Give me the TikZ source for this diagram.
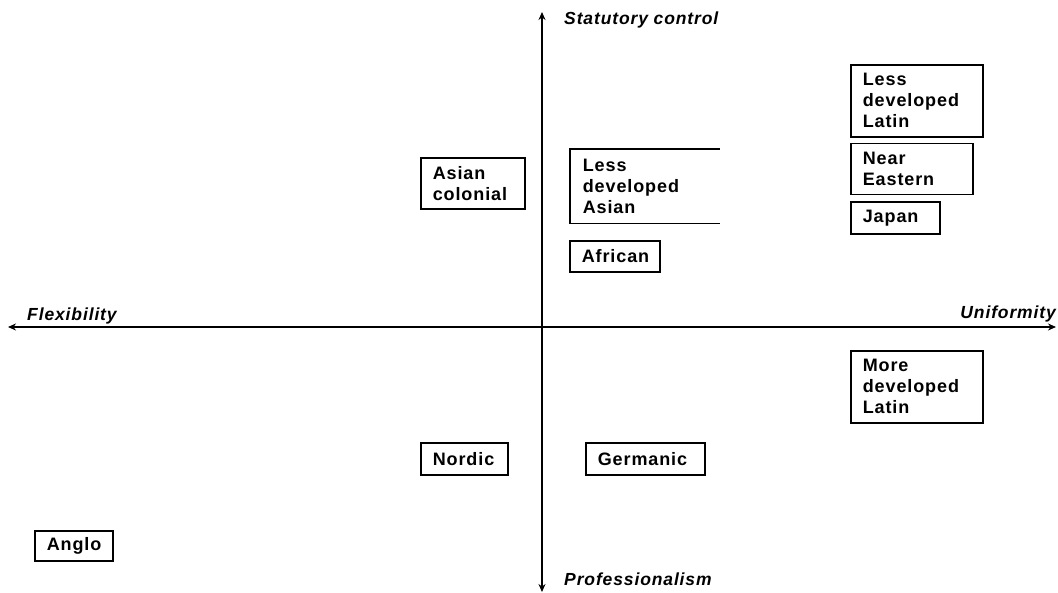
\documentclass[tikz,border=0pt]{standalone}
\usepackage{fontspec}
\setmainfont{Liberation Sans}[LetterSpace=5]
\usetikzlibrary{arrows.meta, positioning}

\begin{document}
\begin{tikzpicture}[
    x=1pt, y=-1pt,
    region/.style={draw, line width=1.6pt, align=left, anchor=north west, inner xsep=12pt, inner ysep=0pt,
        font=\fontsize{18}{21}\selectfont\bfseries},
    axis/.style={{Stealth[length=8pt,width=7pt]}-{Stealth[length=8pt,width=7pt]}, line width=2.2pt},
    pole/.style={font=\fontsize{17.5}{20}\selectfont\bfseries\itshape, inner sep=0pt}
]
    \useasboundingbox (0,0) rectangle (1058,593);

    % axes
    \coordinate (west) at (8,327);
    \coordinate (east) at (1056,327);
    \coordinate (north) at (542,12);
    \coordinate (south) at (542,592);
    \draw[axis] (west) -- (east);
    \draw[axis] (north) -- (south);

    \node[pole, anchor=west] (statutory) at (564,20) {Statutory control};
    \node[pole, anchor=west] (professional) at (564,579) {Professionalism};
    \node[pole, anchor=west] (flexibility) at (27,316) {Flexibility};
    \node[pole, anchor=east] (uniformity) at (1056,314) {Uniformity};

    % upper right
    \node[region, text width=108pt, minimum height=72pt] (ldlatin) at (850,64) {Less\\developed\\Latin};
    \node[region, text width=98pt, minimum height=51pt, below=5pt of ldlatin.south west, anchor=north west] (neareast) {Near\\Eastern};
    \node[region, text width=65pt, minimum height=32pt, below=6pt of neareast.south west, anchor=north west] (japan) {Japan};
    \node[region, draw=none, text width=124pt, minimum height=73pt] (ldasia) at (570,149) {Less\\developed\\Asian};
    \draw[line width=1.6pt] (ldasia.north east) -| (ldasia.south west) -- (ldasia.south east);
    \node[region, text width=66pt, minimum height=31pt] (african) at (569,240) {African};

    % upper left
    \node[region, text width=80pt, minimum height=51pt] (asiacol) at (420,157) {Asian\\colonial};

    % lower half
    \node[region, text width=108pt, minimum height=72pt] (mdlatin) at (850,350) {More\\developed\\Latin};
    \node[region, text width=63pt, minimum height=32pt] (nordic) at (420,442) {Nordic};
    \node[region, text width=95pt, minimum height=32pt] (germanic) at (585,442) {Germanic};
    \node[region, text width=54pt, minimum height=30pt] (anglo) at (34,530) {Anglo};
\end{tikzpicture}
\end{document}
